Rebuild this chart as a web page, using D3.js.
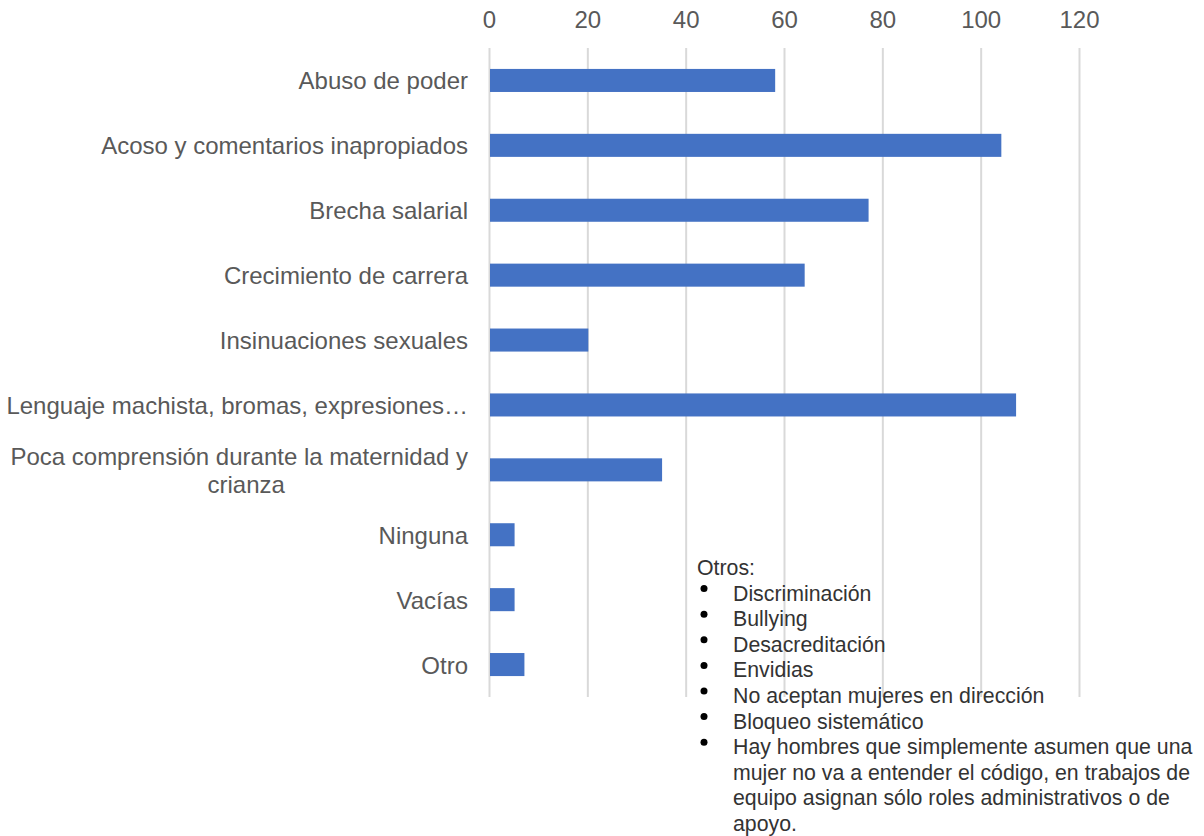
<!DOCTYPE html>
<html>
<head>
<meta charset="utf-8">
<script src="https://cdn.jsdelivr.net/npm/d3@7"></script>
<style>
  body { margin: 0; background: #fff; }
  svg { font-family: "Liberation Sans", Arial, sans-serif; }
</style>
</head>
<body>
<svg id="chart" width="1204" height="836"></svg>
<script>
// categories top to bottom, counts
const categories = [
    'Abuso de poder',
    'Acoso y comentarios inapropiados',
    'Brecha salarial',
    'Crecimiento de carrera',
    'Insinuaciones sexuales',
    'Lenguaje machista, bromas, expresiones…',
    'Poca comprensión durante la maternidad y\ncrianza',
    'Ninguna',
    'Vacías',
    'Otro'
];
const values = [58, 104, 77, 64, 20, 107, 35, 5, 5, 7];
const tickValues = [0, 20, 40, 60, 80, 100, 120];

const otrosTitle = 'Otros:';
const otrosItems = [
    ['Discriminación'],
    ['Bullying'],
    ['Desacreditación'],
    ['Envidias'],
    ['No aceptan mujeres en dirección'],
    ['Bloqueo sistemático'],
    ['Hay hombres que simplemente asumen que una',
     'mujer no va a entender el código, en trabajos de',
     'equipo asignan sólo roles administrativos o de',
     'apoyo.']
];

const svg = d3.select('#chart');
const margin = {top: 48, left: 489, right: 125, bottom: 139};
const width = +svg.attr('width') - margin.left - margin.right;
const height = +svg.attr('height') - margin.top - margin.bottom;

const x = d3.scaleLinear().domain([0, 120]).range([0, width]);
const y = d3.scaleBand().domain(categories).range([0, height]).paddingInner(0.645).paddingOuter(0.3225);

const g = svg.append('g').attr('transform', `translate(${margin.left},${margin.top})`);

// gridlines
g.append('g')
    .selectAll('line')
    .data(tickValues)
    .enter().append('line')
    .attr('x1', d => x(d) + 0.5)
    .attr('x2', d => x(d) + 0.5)
    .attr('y1', 0)
    .attr('y2', height)
    .attr('stroke', '#d9d9d9')
    .attr('stroke-width', 2);

// top axis, labels only
const xAxis = g.append('g')
    .call(d3.axisTop(x).tickValues(tickValues).tickSize(0).tickPadding(20));
xAxis.select('.domain').remove();
xAxis.selectAll('text')
    .attr('font-size', 24)
    .attr('fill', '#595959')
    .attr('font-family', '"Liberation Sans", Arial, sans-serif');

// bars
g.append('g')
    .selectAll('rect')
    .data(values)
    .enter().append('rect')
    .attr('x', x(0) + 1)
    .attr('y', (d, i) => y(categories[i]))
    .attr('width', d => x(d) - x(0))
    .attr('height', y.bandwidth())
    .attr('fill', '#4472c4');

// category labels, wrapped lines centred on each other and right aligned as a block
const labelRight = -21;
const lineH = 28;
const labels = g.append('g')
    .selectAll('text')
    .data(categories)
    .enter().append('text')
    .attr('font-size', 24)
    .attr('fill', '#595959')
    .attr('dominant-baseline', 'central');

labels.each(function (d) {
    const lines = d.split('\n');
    const el = d3.select(this);
    const cy = y(d) + y.bandwidth() / 2 - (lines.length - 1) * lineH / 2;
    lines.forEach((line, k) => {
        el.append('tspan').attr('y', cy + k * lineH).text(line);
    });
    if (lines.length === 1) {
        el.attr('text-anchor', 'end').selectAll('tspan').attr('x', labelRight);
    } else {
        // first line keeps its trailing space in the wrap, so the centre sits a bit right
        const w = d3.max(el.selectAll('tspan').nodes(), n => n.getComputedTextLength());
        el.attr('text-anchor', 'middle').selectAll('tspan').attr('x', labelRight - w / 2 + 7);
        el.select('tspan').attr('text-anchor', 'end').attr('x', labelRight);
    }
});

// "Otros" note
const note = svg.append('g').attr('transform', 'translate(697,568)');
const noteLine = 25.6;
const noteSize = 21.3;
note.append('text')
    .attr('y', 0)
    .attr('font-size', noteSize)
    .attr('fill', '#333')
    .attr('dominant-baseline', 'central')
    .text(otrosTitle);

let row = 1;
otrosItems.forEach(item => {
    note.append('circle')
        .attr('cx', 7)
        .attr('cy', row * noteLine - 5)
        .attr('r', 3.5)
        .attr('fill', '#000');
    item.forEach(line => {
        note.append('text')
            .attr('x', 36)
            .attr('y', row * noteLine)
            .attr('font-size', noteSize)
            .attr('fill', '#333')
            .attr('dominant-baseline', 'central')
            .text(line);
        row += 1;
    });
});
</script>
</body>
</html>
